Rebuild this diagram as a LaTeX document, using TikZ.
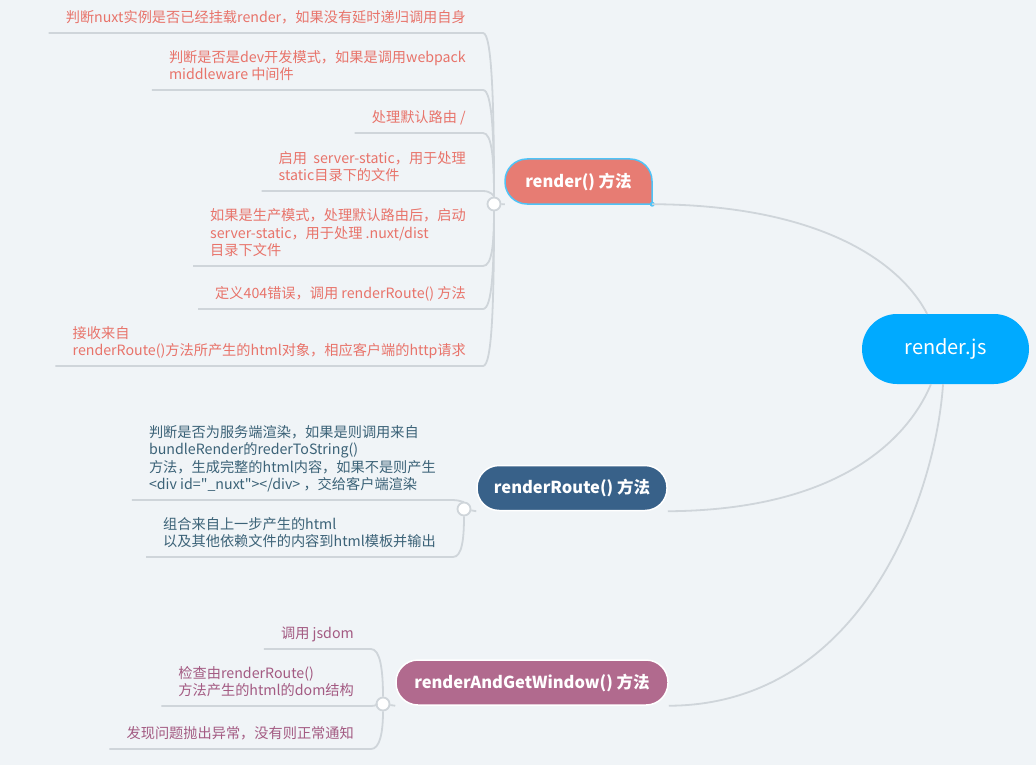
\documentclass[tikz,border=0pt]{standalone}
\usepackage{fontspec}
\setmainfont{Noto Sans CJK SC}
\definecolor{paper}{HTML}{F0F4F7}
\definecolor{wire}{HTML}{CFD5DA}
\definecolor{rootblue}{HTML}{00AAFF}
\definecolor{salmon}{HTML}{E77C73}
\definecolor{salmontext}{HTML}{E8736A}
\definecolor{selblue}{HTML}{4FC3F7}
\definecolor{navy}{HTML}{386189}
\definecolor{navytext}{HTML}{3B6277}
\definecolor{mauve}{HTML}{B16A8E}
\definecolor{mauvetext}{HTML}{A35A82}
\begin{document}
\begin{tikzpicture}[x=1pt,y=-1pt,
  twig/.style={draw=wire,line width=1.8pt},
  hub/.style={circle,draw=wire,line width=1.8pt,fill=white,minimum size=13pt,inner sep=0pt},
  leaf/.style={anchor=south east,align=left,inner xsep=17pt,inner ysep=6pt,text depth=4pt,font=\fontsize{14.2}{17.5}\selectfont},
  redleaf/.style={leaf,text=salmontext},
  blueleaf/.style={leaf,text=navytext},
  pinkleaf/.style={leaf,text=mauvetext},
  bough/.style={rounded corners=22pt,minimum height=45pt,inner xsep=0pt,text=white,draw=white,line width=1.5pt,font=\bfseries\fontsize{16.5}{20}\selectfont}]
\fill[paper] (0,0) rectangle (1036,765);
\useasboundingbox (0,0) rectangle (1036,765);

% root
\node[rounded corners=35pt,fill=rootblue,minimum width=167pt,minimum height=70pt,text=white,font=\fontsize{20}{24}\selectfont] (root) at (945.5,349) {render.js};

% render() branch (selected, square lower right corner)
\fill[salmon,draw=selblue,line width=1.5pt] (652,204) [rounded corners=22pt] -- (652,159) -- (505,159) -- (505,204) [sharp corners] -- cycle;
\node[minimum width=147pt,minimum height=45pt,inner sep=0pt,text=white,font=\bfseries\fontsize{16.5}{20}\selectfont] (render) at (578.5,181.5) {render() 方法};
\fill[selblue] (render.south east) circle (2.5pt);
\node[hub] (jr) at (494,204) {};

\node[redleaf] (r1) at (483,33) {判断nuxt实例是否已经挂载render，如果没有延时递归调用自身};
\node[redleaf] (r2) at (483,90) {判断是否是dev开发模式，如果是调用webpack\\middleware 中间件};
\node[redleaf] (r3) at (483,133) {处理默认路由 /};
\node[redleaf] (r4) at (483,191) {启用\ \ server-static，用于处理\\static目录下的文件};
\node[redleaf] (r5) at (483,266) {如果是生产模式，处理默认路由后，启动\\server-static，用于处理 .nuxt/dist\\目录下文件};
\node[redleaf] (r6) at (483,309) {定义404错误，调用 renderRoute() 方法};
\node[redleaf] (r7) at (483,366) {接收来自\\renderRoute()方法所产生的html对象，相应客户端的http请求};

\draw[twig] (r1.south west) -- (r1.south east) .. controls +(9,0) and +(0,-100) .. (jr);
\draw[twig] (r2.south west) -- (r2.south east) .. controls +(9,0) and +(0,-70) .. (jr);
\draw[twig] (r3.south west) -- (r3.south east) .. controls +(9,0) and +(0,-45) .. (jr);
\draw[twig] (r4.south west) -- (r4.south east) .. controls +(8,0) and +(0,-8) .. (jr);
\draw[twig] (r5.south west) -- (r5.south east) .. controls +(9,0) and +(0,40) .. (jr);
\draw[twig] (r6.south west) -- (r6.south east) .. controls +(9,0) and +(0,65) .. (jr);
\draw[twig] (r7.south west) -- (r7.south east) .. controls +(9,0) and +(0,100) .. (jr);
\draw[twig] (jr) -- (render.south west);

% renderRoute() branch
\node[bough,fill=navy,minimum width=190pt] (rroute) at (572,488) {renderRoute() 方法};
\node[hub] (jrr) at (464,509) {};

\node[blueleaf] (b1) at (453,500) {判断是否为服务端渲染，如果是则调用来自\\bundleRender的rederToString()\\方法，生成完整的html内容，如果不是则产生\\<div id=\textquotedbl\_nuxt\textquotedbl></div> ，交给客户端渲染};
\node[blueleaf] (b2) at (453,557) {组合来自上一步产生的html\\以及其他依赖文件的内容到html模板并输出};

\draw[twig] (b1.south west) -- (b1.south east) .. controls +(7,0) and +(0,-6) .. (jrr);
\draw[twig] (b2.south west) -- (b2.south east) .. controls +(9,0) and +(0,30) .. (jrr);
\draw[twig] (jrr) -- (rroute.south west);

% renderAndGetWindow() branch
\node[bough,fill=mauve,minimum width=272pt] (rwin) at (532,682.5) {renderAndGetWindow() 方法};
\node[hub] (jw) at (383,704) {};

\node[pinkleaf] (p1) at (371,649) {调用 jsdom};
\node[pinkleaf] (p2) at (371,706) {检查由renderRoute()\\方法产生的html的dom结构};
\node[pinkleaf] (p3) at (371,749) {发现问题抛出异常，没有则正常通知};

\draw[twig] (p1.south west) -- (p1.south east) .. controls +(9,0) and +(0,-35) .. (jw);
\draw[twig] (p2.south west) -- (p2.south east) .. controls +(5,0) and +(-5,0) .. (jw);
\draw[twig] (p3.south west) -- (p3.south east) .. controls +(9,0) and +(0,28) .. (jw);
\draw[twig] (jw) -- (rwin.south west);

% root connectors
\draw[twig] (render.south east) .. controls (820,205) and (900,262) .. (root);
\draw[twig] (rroute.south east) .. controls (850,510) and (912,430) .. (root);
\draw[twig] (rwin.south east) .. controls (860,705) and (935,500) .. (root);
\end{tikzpicture}
\end{document}
